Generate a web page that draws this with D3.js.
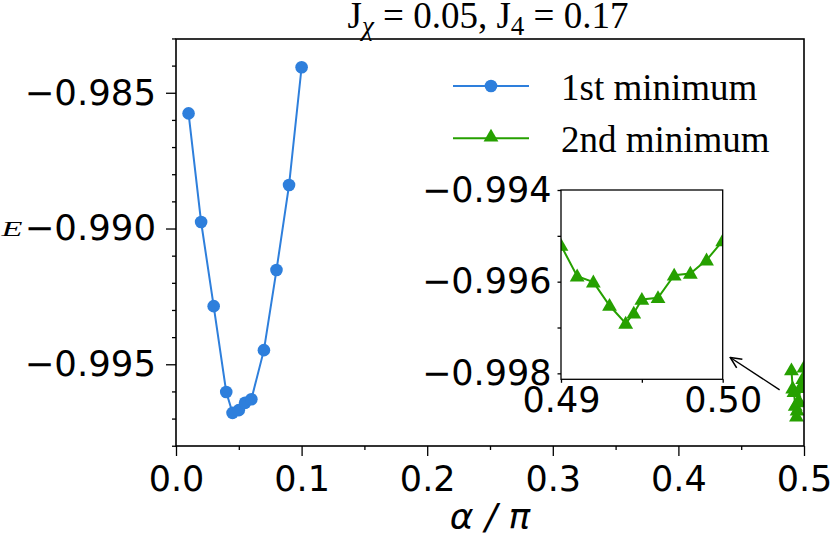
<!DOCTYPE html>
<html>
<head>
<meta charset="utf-8">
<script src="https://cdn.jsdelivr.net/npm/d3@7.9.0/dist/d3.min.js"></script>
<style>
  body { margin: 0; background: #fff; }
  svg { display: block; }
  .tick text { font-family: "DejaVu Sans", sans-serif; fill: #000; }
  .tick line { stroke: #000; stroke-width: 1.3; }
</style>
</head>
<body>
<svg id="chart" width="831" height="535"></svg>
<script>
// 1st minimum (blue circles)
const alpha1 = [0.01, 0.02, 0.03, 0.04, 0.045, 0.05, 0.055, 0.06, 0.07, 0.08, 0.09, 0.10];
const energy1 = [-0.98576, -0.98976, -0.99286, -0.99602, -0.99679, -0.99669, -0.99642, -0.99629, -0.99448, -0.99153, -0.98840, -0.98406];
// 2nd minimum (green triangles)
const alpha2 = [0.490, 0.491, 0.492, 0.493, 0.494, 0.4945, 0.495, 0.496, 0.497, 0.498, 0.499, 0.500];
const energy2 = [-0.99521, -0.99588, -0.99601, -0.99652, -0.99691, -0.99669, -0.99639, -0.99635, -0.99586, -0.99582, -0.99553, -0.99511];

const xTicks = [0, 0.1, 0.2, 0.3, 0.4, 0.5];
const xMinor = [0.05, 0.15, 0.25, 0.35, 0.45];
const yTicks = [-0.995, -0.990, -0.985];
const yMinor = d3.range(-998, -982).map(v => v / 1000);
const insetXTicks = [0.49, 0.50];
const insetXMinor = [0.495];
const insetYTicks = [-0.998, -0.996, -0.994];
const insetYMinor = [-0.997, -0.995];
const seriesNames = ["1st minimum", "2nd minimum"];

const blue = "#2e7fdc", green = "#26a000";
const svg = d3.select("#chart");
const fmt = d3.format(".3f");

// main axes
const mL = 176, mR = 804, mT = 39, mB = 446;
const x = d3.scaleLinear().domain([0, 0.5]).range([mL, mR]);
const y = d3.scaleLinear().domain([-0.99801, -0.98302]).range([mB, mT]);

svg.append("clipPath").attr("id", "clipMain")
  .append("rect").attr("x", mL).attr("y", mT)
  .attr("width", mR - mL).attr("height", mB - mT);

function axis(g, gen) { g.call(gen); g.select(".domain").remove(); }

svg.append("g").attr("transform", `translate(0,${mB})`)
  .call(g => axis(g, d3.axisBottom(x).tickValues(xTicks).tickSize(10).tickPadding(10).tickFormat(d3.format(".1f"))))
  .selectAll("text").attr("font-size", 35);
svg.append("g").attr("transform", `translate(0,${mB})`)
  .call(g => axis(g, d3.axisBottom(x).tickValues(xMinor).tickSize(4).tickFormat("")));
svg.append("g").attr("transform", `translate(${mL},0)`)
  .call(g => axis(g, d3.axisLeft(y).tickValues(yTicks).tickSize(10).tickPadding(10).tickFormat(fmt)))
  .selectAll("text").attr("font-size", 35.5);
svg.append("g").attr("transform", `translate(${mL},0)`)
  .call(g => axis(g, d3.axisLeft(y).tickValues(yMinor.filter(v => !yTicks.some(t => Math.abs(t - v) < 1e-9))).tickSize(4).tickFormat("")));

const line1 = d3.line().x(i => x(alpha1[i])).y(i => y(energy1[i]));
const line2 = d3.line().x(i => x(alpha2[i])).y(i => y(energy2[i]));
const tri = d3.symbol().type(d3.symbolTriangle).size(95);

const plot = svg.append("g").attr("clip-path", "url(#clipMain)");
plot.append("path").attr("d", line1(d3.range(alpha1.length)))
  .attr("fill", "none").attr("stroke", blue).attr("stroke-width", 2);
plot.selectAll(".c1").data(d3.range(alpha1.length)).join("circle")
  .attr("cx", i => x(alpha1[i])).attr("cy", i => y(energy1[i])).attr("r", 6.3).attr("fill", blue);
plot.append("path").attr("d", line2(d3.range(alpha2.length)))
  .attr("fill", "none").attr("stroke", green).attr("stroke-width", 2);
plot.selectAll(".t1").data(d3.range(alpha2.length)).join("path")
  .attr("d", tri).attr("fill", green)
  .attr("transform", i => `translate(${x(alpha2[i])},${y(energy2[i]) + 1})`);

svg.append("rect").attr("x", mL).attr("y", mT)
  .attr("width", mR - mL).attr("height", mB - mT)
  .attr("fill", "none").attr("stroke", "#000").attr("stroke-width", 1.6);

// title
const title = svg.append("text").attr("x", (mL + mR) / 2 - 2).attr("y", 28)
  .attr("text-anchor", "middle").attr("font-family", "Liberation Serif, serif").attr("font-size", 37);
title.append("tspan").text("J");
title.append("tspan").text("χ").attr("font-style", "italic").attr("font-size", 27).attr("dy", 7);
title.append("tspan").text(" = 0.05, J").attr("dy", -7);
title.append("tspan").text("4").attr("font-size", 27).attr("dy", 7);
title.append("tspan").text(" = 0.17").attr("dy", -7);

// axis labels
svg.append("text").attr("x", 490).attr("y", 529).attr("text-anchor", "middle")
  .attr("font-family", "DejaVu Sans, sans-serif").attr("font-style", "italic").attr("font-size", 36)
  .text("α / π");
svg.append("text").attr("x", 1.5).attr("y", 236)
  .attr("font-family", "Liberation Serif, serif").attr("font-style", "italic").attr("font-size", 22)
  .attr("textLength", 21).attr("lengthAdjust", "spacingAndGlyphs").text("E");

// legend
const legend = svg.append("g");
const legendRows = [
  { name: seriesNames[0], color: blue, shape: "circle" },
  { name: seriesNames[1], color: green, shape: "tri" }
];
legendRows.forEach((r, k) => {
  const ly = 86 + k * 52.3;
  legend.append("line").attr("x1", 453).attr("x2", 529).attr("y1", ly).attr("y2", ly)
    .attr("stroke", r.color).attr("stroke-width", 2);
  if (r.shape === "circle") {
    legend.append("circle").attr("cx", 491).attr("cy", ly).attr("r", 6.3).attr("fill", r.color);
  } else {
    legend.append("path").attr("d", tri).attr("fill", r.color).attr("transform", `translate(491,${ly - 1})`);
  }
  legend.append("text").attr("x", 561).attr("y", ly + 14)
    .attr("font-family", "Liberation Serif, serif").attr("font-size", 37).text(r.name);
});

// arrow pointing to the inset
svg.append("defs").append("marker").attr("id", "head")
  .attr("viewBox", "0 0 10 10").attr("refX", 9.5).attr("refY", 5)
  .attr("markerWidth", 13).attr("markerHeight", 13).attr("orient", "auto")
  .attr("markerUnits", "userSpaceOnUse")
  .append("path").attr("d", "M1,1 L9.5,5 L1,9").attr("fill", "none").attr("stroke", "#000").attr("stroke-width", 1.2);
svg.append("line")
  .attr("x1", x(0.4806)).attr("y1", y(-0.99594))
  .attr("x2", x(0.4413)).attr("y2", y(-0.99475))
  .attr("stroke", "#000").attr("stroke-width", 1.4).attr("marker-end", "url(#head)");

// inset
const il = 561, ir = 722.7, it = 190, ib = 379.3;
const xi = d3.scaleLinear().domain([0.49, 0.50]).range([il, ir]);
const yi = d3.scaleLinear().domain([-0.99813, -0.994]).range([ib, it]);
svg.append("rect").attr("x", il).attr("y", it).attr("width", ir - il).attr("height", ib - it).attr("fill", "#fff");
svg.append("clipPath").attr("id", "clipInset")
  .append("rect").attr("x", il).attr("y", it).attr("width", ir - il).attr("height", ib - it);

svg.append("g").attr("transform", `translate(0,${ib})`)
  .call(g => axis(g, d3.axisBottom(xi).tickValues(insetXTicks).tickSize(3.5).tickPadding(4).tickFormat(d3.format(".2f"))))
  .selectAll("text").attr("font-size", 35);
svg.append("g").attr("transform", `translate(0,${ib})`)
  .call(g => axis(g, d3.axisBottom(xi).tickValues(insetXMinor).tickSize(3.5).tickFormat("")));
svg.append("g").attr("transform", `translate(${il},0)`)
  .call(g => axis(g, d3.axisLeft(yi).tickValues(insetYTicks).tickSize(3.5).tickPadding(6).tickFormat(fmt)))
  .selectAll("text").attr("font-size", 35);
svg.append("g").attr("transform", `translate(${il},0)`)
  .call(g => axis(g, d3.axisLeft(yi).tickValues(insetYMinor).tickSize(3.5).tickFormat("")));

const lineI = d3.line().x(i => xi(alpha2[i])).y(i => yi(energy2[i]));
const inset = svg.append("g").attr("clip-path", "url(#clipInset)");
inset.append("path").attr("d", lineI(d3.range(alpha2.length)))
  .attr("fill", "none").attr("stroke", green).attr("stroke-width", 2);
inset.selectAll("path.m").data(d3.range(alpha2.length)).join("path").attr("class", "m")
  .attr("d", tri).attr("fill", green)
  .attr("transform", i => `translate(${xi(alpha2[i])},${yi(energy2[i]) + 1})`);

svg.append("rect").attr("x", il).attr("y", it).attr("width", ir - il).attr("height", ib - it)
  .attr("fill", "none").attr("stroke", "#000").attr("stroke-width", 1.3);
</script>
</body>
</html>
